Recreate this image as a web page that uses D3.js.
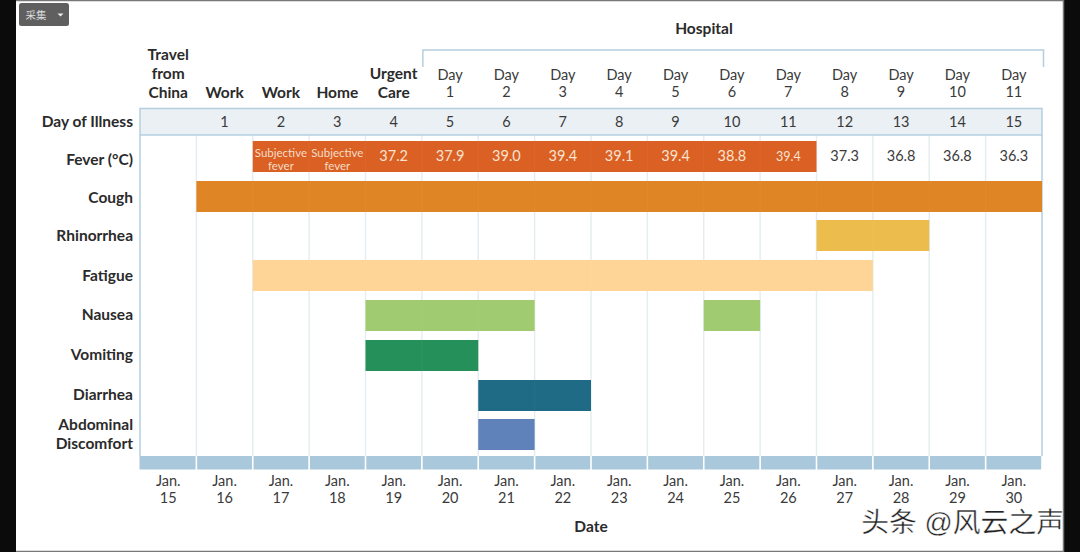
<!DOCTYPE html>
<html><head><meta charset="utf-8">
<script src="https://cdnjs.cloudflare.com/ajax/libs/d3/7.8.5/d3.min.js"></script>
<style>html,body{margin:0;padding:0;background:#0b0b0b;overflow:hidden}svg{display:block}text{font-family:Lato,"Open Sans",sans-serif}</style>
</head><body>
<svg id="c" width="1080" height="552"></svg>
<script>
const dates = ["15","16","17","18","19","20","21","22","23","24","25","26","27","28","29","30"];
const illnessDays = ["","1","2","3","4","5","6","7","8","9","10","11","12","13","14","15"];
const locations = [["Travel","from","China"],["Work"],["Work"],["Home"],["Urgent","Care"]];
const hospitalDays = ["1","2","3","4","5","6","7","8","9","10","11"];
const feverLabels = ["","",["Subjective","fever"],["Subjective","fever"],"37.2","37.9","39.0","39.4","39.1","39.4","38.8","39.4","37.3","36.8","36.8","36.3"];
const feverEndColumn = 12;
const symptoms = ["Fever (°C)","Cough","Rhinorrhea","Fatigue","Nausea","Vomiting","Diarrhea","Abdominal Discomfort"];
const symptomColors = ["#da6024","#e08526","#ecbd4c","#fed596","#a0cb70","#26905a","#1f6a84","#6082ba"];
const spans = [
  ["Fever (°C)",2,12],["Cough",1,16],["Rhinorrhea",12,14],["Fatigue",2,13],
  ["Nausea",4,7],["Nausea",10,11],["Vomiting",4,6],["Diarrhea",6,8],["Abdominal Discomfort",6,7]
];

const svg = d3.select("#c");
const x = d3.scaleLinear().domain([0,16]).range([140,1042]);
const w = x(1)-x(0);
const rowY = d3.scaleOrdinal().domain(symptoms).range([141,181,220,260,300,340,380,419]);
const rowH = 31;
const ink = "#2b2b2b", txt="#3a3a3a", line="#b4cfe0", grid="#e6edf1";

// page
svg.append("rect").attr("x",16).attr("y",0).attr("width",1047).attr("height",552).attr("fill","#fff");
svg.append("path").attr("d","M16 0.5H1063.5V551.5H16").attr("fill","none").attr("stroke","#777").attr("stroke-width",1.5);

// button
svg.append("rect").attr("x",19).attr("y",3).attr("width",50).attr("height",23).attr("rx",2.5).attr("fill","#5f5f5f");
svg.append("text").attr("x",36).attr("y",19).attr("text-anchor","middle").attr("fill","#ddd").style("font-family","'Noto Sans CJK SC'").style("font-size","10.5px").text("采集");
svg.append("path").attr("d","M57.5 13.5h6l-3 3z").attr("fill","#eee");

// grid
svg.selectAll("line.g").data(d3.range(1,16)).join("line").attr("class","g")
  .attr("x1",d=>x(d)).attr("x2",d=>x(d)).attr("y1",135).attr("y2",456)
  .attr("stroke",grid).attr("stroke-width",1.5);

// header band
svg.append("rect").attr("x",x(0)).attr("y",108.5).attr("width",x(16)-x(0)).attr("height",26.5)
  .attr("fill","#ebf0f5").attr("stroke",line).attr("stroke-width",1.5);
svg.append("path").attr("d",`M${x(0)} 135V456M${x(16)} 135V456`).attr("stroke",line).attr("stroke-width",1.5).attr("fill","none");

// bars
svg.selectAll("rect.s").data(spans).join("rect").attr("class","s")
  .attr("x",d=>x(d[1])).attr("width",d=>x(d[2])-x(d[1]))
  .attr("y",d=>rowY(d[0])).attr("height",rowH)
  .attr("fill",d=>symptomColors[symptoms.indexOf(d[0])]);

// faint column lines showing through the bars
spans.forEach(s=>{
  d3.range(s[1]+1,s[2]).forEach(c=>{
    svg.append("line").attr("x1",x(c)).attr("x2",x(c)).attr("y1",rowY(s[0])).attr("y2",rowY(s[0])+rowH)
      .attr("stroke","#fff").attr("stroke-opacity",0.03).attr("stroke-width",1.5);
  });
});

// bottom band
svg.selectAll("rect.b").data(dates).join("rect").attr("class","b")
  .attr("x",(d,i)=>x(i)+(i?0.8:-0.5)).attr("width",(d,i)=>w-(i?1.6:0.3))
  .attr("y",456).attr("height",13.5).attr("fill","#a9c8db");

function multi(sel, lines, cx, lastY, lh, style){
  lines.forEach((t,i)=>{
    sel.append("text").attr("x",cx).attr("y",lastY-(lines.length-1-i)*lh).attr("text-anchor",style.anchor||"middle")
      .attr("fill",style.fill).style("font-size",style.size+"px").style("font-weight",style.weight||400).text(t);
  });
}
const cx = i => x(i)+w/2;

// locations
locations.forEach((l,i)=>multi(svg,l,cx(i),97.5,18.8,{fill:ink,size:15.5,weight:700}));
// hospital
svg.append("text").attr("x",704).attr("y",34).attr("text-anchor","middle").attr("fill",ink).style("font-size","15.5px").style("font-weight",700).text("Hospital");
svg.append("path").attr("d",`M${x(5)+1} 67V50H${x(16)+1.5}V67`).attr("fill","none").attr("stroke",line).attr("stroke-width",1.5);
hospitalDays.forEach((d,i)=>multi(svg,["Day",d],cx(i+5),97,17,{fill:txt,size:14.5}));
// day of illness
illnessDays.forEach((d,i)=>multi(svg,[d],cx(i),127,0,{fill:txt,size:14.5}));
// row labels
multi(svg,["Day of Illness"],133,127,0,{fill:ink,size:15.5,weight:700,anchor:"end"});
const labelBase = {"Fever (°C)":164.5,"Cough":203,"Rhinorrhea":241,"Fatigue":281,"Nausea":320,"Vomiting":360,"Diarrhea":400};
symptoms.forEach(s=>{ if(labelBase[s]) multi(svg,[s],133,labelBase[s],0,{fill:ink,size:15.5,weight:700,anchor:"end"}); });
multi(svg,["Abdominal","Discomfort"],133,449,19,{fill:ink,size:15.5,weight:700,anchor:"end"});

// fever values
feverLabels.forEach((f,i)=>{
  if(!f) return;
  const inside = i<feverEndColumn;
  if(Array.isArray(f)) multi(svg,f,cx(i),169.5,13,{fill:"#f6dcc6",size:11.5});
  else multi(svg,[f],cx(i),160.5,0,{fill:inside?"#f9e3d0":txt,size:i===11?12.5:14.5});
});

// date ticks
dates.forEach((d,i)=>multi(svg,["Jan.",d],cx(i),503,17,{fill:txt,size:14.5}));
svg.append("text").attr("x",591).attr("y",531.5).attr("text-anchor","middle").attr("fill",ink).style("font-size","15.5px").style("font-weight",700).text("Date");

// watermark
svg.append("text").attr("x",1064).attr("y",532).attr("text-anchor","end").attr("fill","#222").attr("stroke","#fff").attr("stroke-width",0.4)
  .style("font-family","'Liberation Sans','Noto Sans CJK SC'").style("font-size","27.8px").text("头条 @风云之声");
</script>
</body></html>
